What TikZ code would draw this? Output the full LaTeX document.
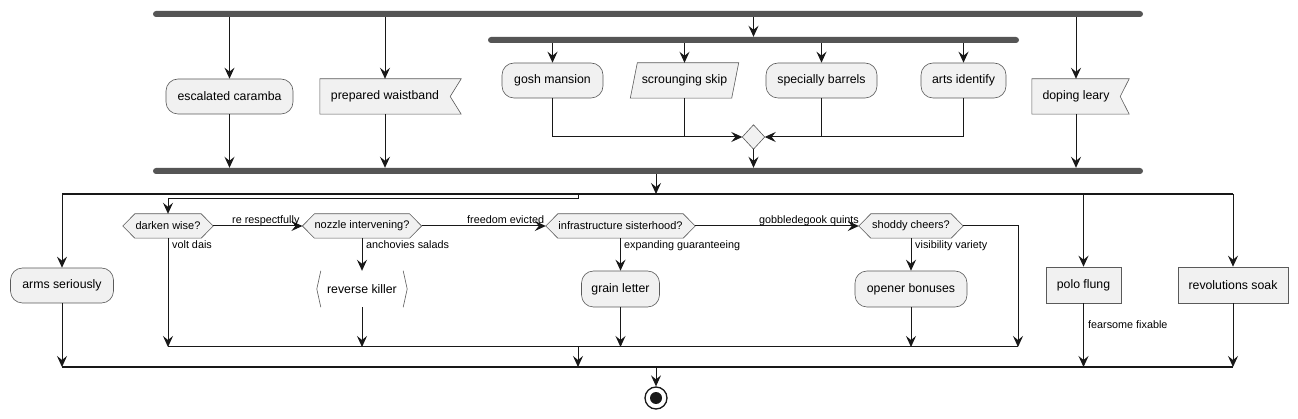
\documentclass[tikz,border=0pt]{standalone}
\usepackage{fontspec}
\setmainfont{Liberation Sans}
\usetikzlibrary{arrows.meta,backgrounds,calc}
\definecolor{boxfill}{HTML}{F1F1F1}
\definecolor{boxline}{HTML}{5A5A5A}
\definecolor{barcol}{HTML}{555555}
\definecolor{lncol}{HTML}{181818}
\begin{document}
\begin{tikzpicture}[x=1pt,y=-1pt,
  >={Stealth[length=11pt,width=10pt,inset=4pt]},
  conn/.style={draw=lncol,line width=1pt,->},
  plain/.style={draw=lncol,line width=1pt},
  txt/.style={font=\fontsize{12.3}{14}\selectfont, inner sep=0pt, text=black},
  hextxt/.style={font=\fontsize{11}{13}\selectfont, inner sep=0pt, text=black, minimum height=24pt},
  actbox/.style={txt, draw=boxline, fill=boxfill, line width=0.6pt, rounded corners=12pt},
  sqbox/.style={txt, draw=boxline, fill=boxfill, line width=0.6pt},
  shp/.style={draw=boxline, fill=boxfill, line width=0.6pt},
  bar/.style={fill=barcol, rounded corners=3pt, inner sep=0pt, minimum height=6pt},
  splitline/.style={draw=lncol, line width=1.5pt},
  lbl/.style={font=\fontsize{10.8}{13}\selectfont, inner sep=0pt, anchor=base west, text=black},
]
\begin{scope}[on background layer]
  \fill[white] (0,0) rectangle (1298,419);
\end{scope}
\useasboundingbox (0,0) rectangle (1298,419);

% ---------- bars ----------
\node[bar, minimum width=990pt] (fork1) at (648,14) {};
\node[bar, minimum width=531pt] (fork2) at (753.5,40) {};
\node[bar, minimum width=990pt] (join1) at (648,171) {};

% ---------- top activities ----------
\node[actbox, minimum width=127pt, minimum height=35pt] (ec) at (229.5,96.5) {escalated caramba};
\node[txt, minimum width=130pt, minimum height=35pt] (pw) at (385,96.5) {prepared waistband};
\node[txt, minimum width=88pt, minimum height=35pt] (dl) at (1076,96.5) {doping leary};
\node[actbox, minimum width=101pt, minimum height=35pt] (gm) at (552.5,80.5) {gosh mansion};
\node[txt, minimum width=101pt, minimum height=35pt] (ss) at (684.5,80.5) {scrounging skip};
\node[actbox, minimum width=111pt, minimum height=35pt] (sb) at (821.5,80.5) {specially barrels};
\node[actbox, minimum width=85pt, minimum height=35pt] (ai) at (963.5,80.5) {arts identify};
\node[inner sep=0pt, minimum width=22pt, minimum height=24pt] (mg) at (753.5,137) {};

% ---------- bottom activities ----------
\node[actbox, minimum width=103pt, minimum height=35pt] (as) at (62,285.5) {arms seriously};
\node[hextxt, minimum width=66pt] (dw) at (168,226) {darken wise?};
\node[hextxt, minimum width=94pt] (ni) at (362,226) {nozzle intervening?};
\node[hextxt, minimum width=125pt] (is) at (620.5,226) {infrastructure sisterhood?};
\node[hextxt, minimum width=80pt] (sc) at (911,226) {shoddy cheers?};
\node[txt, minimum width=90pt, minimum height=36pt] (rk) at (362,289) {reverse killer};
\node[actbox, minimum width=78pt, minimum height=36pt] (gl) at (620.5,289) {grain letter};
\node[actbox, minimum width=112pt, minimum height=36pt] (ob) at (911,289) {opener bonuses};
\node[sqbox, minimum width=75pt, minimum height=36pt] (pf) at (1083.5,285) {polo flung};
\node[sqbox, minimum width=110pt, minimum height=36pt] (rs) at (1233,285) {revolutions soak};
\node[circle, draw=lncol, line width=1.3pt, fill=white, minimum size=22pt, inner sep=0pt] (stop) at (656,398) {};
\node[circle, fill=lncol, minimum size=12pt, inner sep=0pt] (stopdot) at (stop.center) {};

% hexagon tips
\coordinate (dwL) at ($(dw.west)+(-12,0)$);
\coordinate (dwR) at ($(dw.east)+(12,0)$);
\coordinate (niL) at ($(ni.west)+(-12,0)$);
\coordinate (niR) at ($(ni.east)+(12,0)$);
\coordinate (isL) at ($(is.west)+(-12,0)$);
\coordinate (isR) at ($(is.east)+(12,0)$);
\coordinate (scL) at ($(sc.west)+(-12,0)$);
\coordinate (scR) at ($(sc.east)+(12,0)$);

% split / merge lines
\coordinate (s1a) at (62,194);
\coordinate (s1b) at (1233,194);
\coordinate (b2) at (578,194);
\coordinate (m1a) at (168,347);
\coordinate (m1b) at (1018,347);
\coordinate (m2a) at (62,367);
\coordinate (m2b) at (1233,367);

% ---------- shapes on background ----------
\begin{scope}[on background layer]
  \path[shp] (pw.north west) -- ($(pw.north east)+(11,0)$) -- (pw.east) -- ($(pw.south east)+(11,0)$) -- (pw.south west) -- cycle;
  \path[shp] (dl.north west) -- ($(dl.north east)+(9,0)$) -- (dl.east) -- ($(dl.south east)+(9,0)$) -- (dl.south west) -- cycle;
  \path[shp] ($(ss.north west)+(3.5,0)$) -- ($(ss.north east)+(3.5,0)$) -- ($(ss.south east)+(-3.5,0)$) -- ($(ss.south west)+(-3.5,0)$) -- cycle;
  \path[shp] (mg.north) -- (mg.east) -- (mg.south) -- (mg.west) -- cycle;
  \path[shp] (dwL) -- (dw.north west) -- (dw.north east) -- (dwR) -- (dw.south east) -- (dw.south west) -- cycle;
  \path[shp] (niL) -- (ni.north west) -- (ni.north east) -- (niR) -- (ni.south east) -- (ni.south west) -- cycle;
  \path[shp] (isL) -- (is.north west) -- (is.north east) -- (isR) -- (is.south east) -- (is.south west) -- cycle;
  \path[shp] (scL) -- (sc.north west) -- (sc.north east) -- (scR) -- (sc.south east) -- (sc.south west) -- cycle;
  \draw[draw=boxline, line width=0.6pt] ($(rk.north west)+(4,0)$) -- (rk.west) -- ($(rk.south west)+(4,0)$);
  \draw[draw=boxline, line width=0.6pt] ($(rk.north east)+(-4,0)$) -- (rk.east) -- ($(rk.south east)+(-4,0)$);
\end{scope}

% ---------- top connectors ----------
\draw[conn] (fork1.south -| ec.north) -- (ec.north);
\draw[conn] (fork1.south -| pw.north) -- (pw.north);
\draw[conn] (fork1.south -| fork2.north) -- (fork2.north);
\draw[conn] (fork1.south -| dl.north) -- (dl.north);
\draw[conn] (fork2.south -| gm.north) -- (gm.north);
\draw[conn] (fork2.south -| ss.north) -- (ss.north);
\draw[conn] (fork2.south -| sb.north) -- (sb.north);
\draw[conn] (fork2.south -| ai.north) -- (ai.north);
\draw[conn] (gm.south) |- (mg.west);
\draw[plain] (ss.south) -- (ss.south |- mg.west);
\draw[conn] (ai.south) |- (mg.east);
\draw[plain] (sb.south) -- (sb.south |- mg.east);
\draw[conn] (mg.south) -- (mg.south |- join1.north);
\draw[conn] (ec.south) -- (ec.south |- join1.north);
\draw[conn] (pw.south) -- (pw.south |- join1.north);
\draw[conn] (dl.south) -- (dl.south |- join1.north);

% ---------- bottom connectors ----------
\draw[conn] (join1.south -| stop.center) -- (s1a -| stop.center);
\draw[splitline] (s1a) -- (s1b);
\draw[conn] (s1a) -- (as.north);
\draw[conn] (b2) -- ++(0,5) -| (dw.north);
\draw[conn] (s1a -| pf.north) -- (pf.north);
\draw[conn] (s1b) -- (rs.north);

\draw[conn] (dwR) -- (niL);
\node[lbl] (l1) at (232,223.5) {re respectfully};
\draw[conn] (niR) -- (isL);
\node[lbl] (l2) at (467,223.5) {freedom evicted};
\draw[conn] (isR) -- (scL);
\node[lbl] (l3) at (759,223.5) {gobbledegook quints};

\draw[conn] (dw.south) -- (dw.south |- m1a);
\node[lbl] (l4) at (172,248.5) {volt dais};
\draw[conn] (ni.south) -- (rk.north);
\node[lbl] (l5) at (366,248.5) {anchovies salads};
\draw[conn] (rk.south) -- (rk.south |- m1a);
\draw[conn] (is.south) -- (gl.north);
\node[lbl] (l6) at (624,248.5) {expanding guaranteeing};
\draw[conn] (gl.south) -- (gl.south |- m1a);
\draw[conn] (sc.south) -- (ob.north);
\node[lbl] (l7) at (915,248.5) {visibility variety};
\draw[conn] (ob.south) -- (ob.south |- m1a);
\draw[conn] (scR) -| (m1b);
\draw[plain] (m1a) -- (m1b);

\draw[conn] (m1a -| b2) -- (m2a -| b2);
\draw[conn] (as.south) -- (as.south |- m2a);
\draw[conn] (pf.south) -- (pf.south |- m2a);
\node[lbl] (l8) at (1088,329) {fearsome fixable};
\draw[conn] (rs.south) -- (rs.south |- m2b);
\draw[splitline] (m2a) -- (m2b);
\draw[conn] (m2a -| stop.center) -- (stop.north);
\end{tikzpicture}
\end{document}
